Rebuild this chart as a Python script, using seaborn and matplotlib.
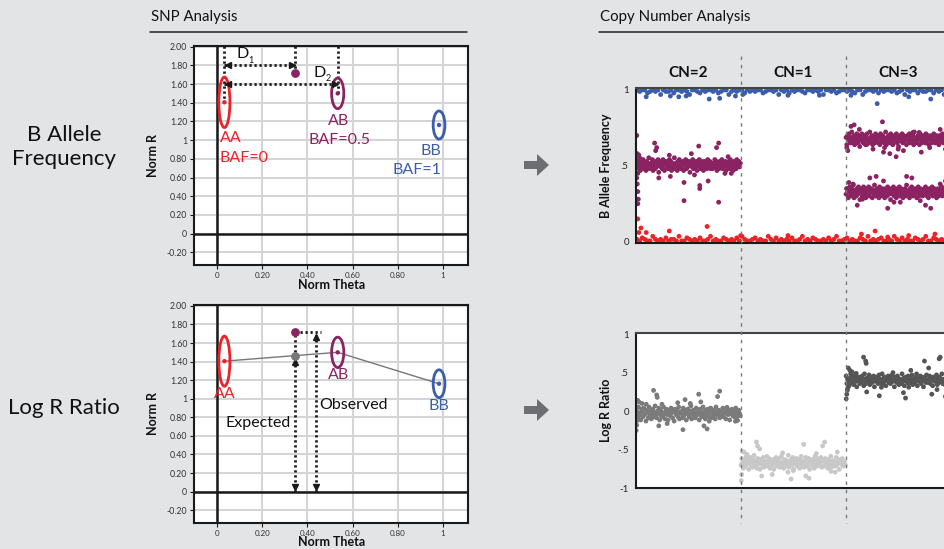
import numpy as np
import pandas as pd
import matplotlib
matplotlib.use("Agg")
import matplotlib.pyplot as plt
import matplotlib.transforms as mtransforms
from matplotlib.patches import Ellipse, Polygon
from matplotlib.lines import Line2D
import seaborn as sns

# ---------------- data: SNP analysis (left) ----------------
theta_ticks = [0, 0.2, 0.4, 0.6, 0.8, 1.0]
theta_labels = ["0", "0.20", "0.40", "0.60", "0.80", "1"]
r_ticks = [-0.2, 0, 0.2, 0.4, 0.6, 0.8, 1.0, 1.2, 1.4, 1.6, 1.8, 2.0]
r_labels = ["-0.20", "0", "0.20", "0.40", "0.60", "0.80", "1", "1.20", "1.40", "1.60", "1.80", "2.00"]

cluster_names = ["AA", "AB", "BB"]
cluster_theta = [0.033, 0.534, 0.982]
cluster_r = [1.405, 1.50, 1.162]
cluster_theta_spread = [0.049, 0.054, 0.052]
cluster_r_spread = [0.54, 0.327, 0.30]
cluster_baf = ["BAF=0", "BAF=0.5", "BAF=1"]

sample_theta = 0.345
sample_r = 1.72
expected_r = 1.465

# ---------------- data: copy number analysis (right) ----------------
seg_labels = ["CN=2", "CN=1", "CN=3"]
seg_starts = [0, 100, 200]
seg_len = 100

# BAF bands: centre values and core deviations (in units of 0.012 BAF)
baf_top = 1.0
top_dev = [0,1,0,0,2,1,0,1,0,3,0,1,1,0,2,0,0,1,0,1,3,0,0,1,2,0,1,0,0,1,0,2,1,0,0,3,1,0,1,0,0,2,0,1,0,1,0,0,2,1,0,0,1,0,3,0,1,0,2,0,1,0,0,1,2,0,0,1,0,1,0,3,0,0,1,0,2,1,0,0,1,0,1,2,0,0,3,1,0,0,1,0,2,0,1,0,0,1,0,2,1,0,3,0,1,0,0,2,0,1,1,0,0,2,0,1,0,3,0,1]
baf_bottom = 0.005
bot_dev = [1,0,2,1,0,0,3,1,0,1,0,2,0,1,1,0,3,0,0,2,1,0,1,0,2,0,0,1,3,0,1,0,0,2,1,0,1,0,2,0,3,1,0,0,1,2,0,1,0,0,3,1,0,2,0,1,0,1,0,2,0,0,1,3,0,1,0,2,1,0,0,1,0,2,0,1,3,0,0,1,2,0,1,0,0,2,1,0,3,0,1,0,1,2,0,0,1,0,3,1,0,2,0,1,0,0,2,1,0,1,3,0,0,2,1,0,1,0,2,0]
baf_mid_cn2 = 0.505
mid2_dev = [2,-1,3,0,-2,1,-3,2,0,-1,3,-2,1,0,-3,2,-1,1,4,-2,0,1,-1,3,-3,0,2,-2,1,-1,0,3,-4,1,2,-1,0,-2,3,1,-3,0,2,-1,1,-2,0,3,-1,2,-3,1,0,-2,4,-1,1,0,-3,2,-1,3,0,-2,1,-1,2,-3,0,1,3,-2,0,-1,2,1,-4,0,2,-1,3,-2,1,0,-1,2,-3,1,0,3,-1,-2,2,0,1,-3,2,-1,0,1,-2,3,0,-1,2,-2,1,0,
            -2,1,0,3,-1,2,-3,0,1,-2,2,-1,0,3,-2,1,-1,0,2,-3,1,0,-1,2,-2,3,0,1,-1,-3,2,0,1,-2,3,-1,0,2,-1,1]
baf_up_cn3 = 0.675
up3_dev = [1,-3,2,0,3,-1,-2,1,4,-2,0,2,-3,1,-1,3,0,-2,2,-4,1,0,3,-1,-2,2,0,-3,1,3,-1,0,-2,4,1,-1,2,-3,0,1,-2,3,-1,0,2,-2,1,-3,3,0,-1,2,1,-2,0,4,-3,1,-1,2,0,-2,3,-1,1,-3,0,2,-1,1,3,-2,0,-4,2,1,-1,0,3,-2,2,-1,0,1,-3,2,0,-1,3,-2,1,0,-1,2,-3,4,0,-2,1,-1,2,0,-3,3,1,-2,
           0,2,-1,1,-2,3,0,-1,2,-3,1,0,2,-2,1,-1,3,0,-2,1,2,-1,0,-3,2,1,-1,0,3,-2,1,0,-1,2,-2,0,1,-3,2,0]
baf_lo_cn3 = 0.325
lo3_dev = [-1,2,0,-3,1,3,-2,0,2,-1,4,-3,1,0,-2,2,-1,3,0,-4,1,2,-2,0,3,-1,1,-3,2,0,-1,3,-2,1,0,2,-3,1,-1,4,0,-2,2,-1,1,-3,3,0,-2,1,2,-1,0,-3,2,1,-2,3,0,-1,1,-4,2,0,-1,3,-2,1,0,-3,2,-1,1,3,-2,0,2,-1,-3,1,0,2,-2,4,-1,0,1,-3,2,-1,3,0,-2,1,-1,2,0,-3,1,3,-2,0,2,-1,
           1,-2,0,2,-1,3,0,-2,1,-3,2,0,-1,1,3,-2,0,2,-1,1,-3,0,2,-2,1,0,-1,3,-2,1,0,2,-1,-2,1,3,0,-1,2,-3]

# BAF outliers (SNP position, value)
blue_out_pos = [10, 33, 41, 48, 70, 80, 95, 102, 145, 175, 205, 230, 260, 281, 298]
blue_out_val = [0.955, 0.96, 0.955, 0.96, 0.94, 0.945, 0.96, 0.97, 0.965, 0.965, 0.965, 0.91, 0.955, 0.94, 0.92]
red_out_pos = [2, 3, 5, 10, 32, 68, 100, 145, 215, 228, 240, 260, 285]
red_out_val = [0.15, 0.06, 0.09, 0.06, 0.07, 0.10, 0.04, 0.04, 0.05, 0.07, 0.03, 0.04, 0.05]
purple_out_pos = [1, 1.5, 2, 1, 1.5, 2, 2.5, 2, 3, 4, 18, 20, 19, 22, 33, 32, 46, 46, 53, 56, 60, 61, 61, 69, 77, 79, 79, 85, 91, 88,
                  201, 202, 205, 208, 213, 220, 226, 235, 236, 237, 242, 248, 250, 255, 264, 270, 272, 280, 290, 295,
                  201, 203, 207, 211, 216, 223, 229, 236, 240, 246, 252, 258, 263, 271, 276, 281, 290, 295]
purple_out_val = [0.70, 0.58, 0.45, 0.42, 0.38, 0.33, 0.28, 0.25, 0.57, 0.55, 0.65, 0.62, 0.60, 0.42, 0.43, 0.57, 0.27, 0.39, 0.58, 0.44, 0.63, 0.35, 0.37, 0.40, 0.62, 0.65, 0.26, 0.45, 0.45, 0.56,
                  0.62, 0.60, 0.76, 0.77, 0.74, 0.64, 0.61, 0.79, 0.59, 0.62, 0.58, 0.56, 0.61, 0.60, 0.72, 0.72, 0.59, 0.62, 0.74, 0.61,
                  0.35, 0.39, 0.38, 0.24, 0.28, 0.42, 0.43, 0.40, 0.22, 0.26, 0.26, 0.43, 0.42, 0.27, 0.24, 0.22, 0.38, 0.40]

# LRR bands: centres and core deviations (in units of 0.014 LRR)
lrr_centre = [-0.03, -0.67, 0.40]
lrr2_dev = [3,-5,1,6,-2,0,-6,4,2,-3,5,-1,0,-7,3,1,-4,6,-2,2,-5,0,4,-3,1,7,-1,-4,2,0,5,-6,3,-2,1,-3,6,0,-5,2,4,-1,-6,3,0,-2,5,1,-4,2,-7,4,0,-1,3,-3,6,-5,1,0,2,-4,5,-2,3,0,-6,1,4,-1,-3,2,7,-5,0,3,-2,1,-4,5,0,-1,2,-6,4,1,-3,0,6,-2,3,-5,1,-1,4,0,-3,2,5,-4,1,-2,3,0,-5,6,-1,2,
            -1,3,-4,2,0,-2,5,-3,1,4,-5,0,2,-1,3,-6,1,0,4,-2,2,-3,0,5,-4,1,-1,3,0,-2]
lrr1_dev = [-2,4,0,-5,3,1,-3,6,-1,2,-6,0,5,-2,1,-4,3,7,-3,0,2,-5,4,-1,1,-6,3,0,-2,5,-4,2,0,-1,6,-3,1,4,-5,0,2,-2,3,-6,1,0,5,-3,2,-1,4,-4,0,6,-2,1,-5,3,0,-1,2,-3,7,-4,1,0,3,-2,5,-6,0,2,-1,4,-3,1,0,-5,3,6,-2,0,1,-4,2,5,-1,-3,0,4,-6,2,1,-2,3,0,-5,6,-1,2,-3,4,0,-2,1,5,-4,3,
            2,-3,0,4,-1,1,-5,3,0,-2,6,-4,1,2,-1,0,-3,5,-2,1,3,-6,0,2,-1,4,-3,0,1,-2]
lrr3_dev = [4,-3,1,0,-5,2,6,-2,0,3,-4,1,5,-1,-6,2,0,3,-3,1,-2,4,0,-5,6,1,-3,2,0,-1,5,-4,3,1,-2,0,4,-6,2,-1,3,0,-3,5,1,-2,0,6,-4,2,-1,3,-5,0,1,4,-2,2,-3,0,5,-1,1,-6,3,0,-2,4,2,-4,1,0,-3,6,-1,2,-5,0,3,1,-2,4,-3,0,2,-1,5,-4,1,0,-2,3,6,-5,0,1,-1,4,-3,2,0,-6,3,1,-2,5,-1,
            -2,1,4,-3,0,2,-5,3,1,-1,0,5,-4,2,-2,3,0,-1,6,-3,1,0,-4,2,3,-2,0,1,-5,4]
lrr2_out_pos = [0.5, 1, 1.5, 2, 3, 6, 10, 17, 20, 20.5, 22, 25, 30, 40, 45, 47, 52, 60, 62, 65, 68, 70, 78, 80, 87, 95, 97]
lrr2_out_val = [-0.25, -0.18, -0.12, 0.14, 0.12, 0.10, 0.09, 0.27, 0.21, 0.18, -0.19, 0.09, -0.16, 0.11, -0.24, 0.15, 0.10, 0.22, 0.12, -0.19, -0.23, -0.13, 0.19, 0.26, 0.05, -0.13, -0.12]
lrr1_out_pos = [100.5, 101, 101.5, 103, 106, 115, 116, 118, 120, 130, 140, 145, 148, 150, 160, 162, 165, 172, 178, 180, 186, 190, 192]
lrr1_out_val = [-0.90, -0.82, -0.52, -0.53, -0.56, -0.40, -0.45, -0.49, -0.84, -0.82, -0.54, -0.79, -0.88, -0.77, -0.43, -0.84, -0.87, -0.55, -0.45, -0.40, -0.78, -0.79, -0.53]
lrr3_out_pos = [200.5, 201, 201.5, 202, 202.5, 204, 206, 210, 217, 219, 219.5, 220, 232, 234, 245, 255, 257, 260, 262, 275, 279, 282, 287, 289, 290, 295, 297]
lrr3_out_val = [0.16, 0.22, 0.27, 0.30, 0.56, 0.53, 0.51, 0.49, 0.70, 0.65, 0.62, 0.25, 0.20, 0.31, 0.50, 0.24, 0.17, 0.31, 0.53, 0.65, 0.56, 0.22, 0.28, 0.68, 0.70, 0.19, 0.36]

# ---------------- style ----------------
sns.set_theme(style="white")
plt.rcParams["font.family"] = ["Lato", "DejaVu Sans"]
BG = "#e3e4e6"
RED = "#ec2227"
PURPLE = "#8b2262"
BLUE = "#3b5dab"
W, H = 945, 549

fig = plt.figure(figsize=(W / 100, H / 100), dpi=100, facecolor=BG)


def fx(x):
    return x / W


def fy(y):
    return 1 - y / H


def rect(l, t, r, b):
    return [fx(l), fy(b), (r - l) / W, (b - t) / H]


# titles + rules
fig.text(fx(151), fy(17), "SNP Analysis", fontsize=10.8, color="#111", va="center", ha="left")
fig.text(fx(600), fy(17), "Copy Number Analysis", fontsize=10.8, color="#111", va="center", ha="left")
fig.add_artist(Line2D([fx(150), fx(467)], [fy(32), fy(32)], color="#222", lw=1.1))
fig.add_artist(Line2D([fx(599), fx(945)], [fy(32), fy(32)], color="#222", lw=1.1))

fig.text(fx(64), fy(147), "B Allele\nFrequency", fontsize=16, color="#111", ha="center", va="center", linespacing=1.2)
fig.text(fx(64), fy(408), "Log R Ratio", fontsize=16, color="#111", ha="center", va="center")

# block arrows
for yc in (165, 410):
    pts = [(524, yc - 4), (537, yc - 4), (537, yc - 11), (549, yc), (537, yc + 11), (537, yc + 4), (524, yc + 4)]
    pts = [(x / 100, (H - y) / 100) for x, y in pts]
    fig.add_artist(Polygon(pts, closed=True, transform=fig.dpi_scale_trans, color="#6d6e71", lw=0))


def snp_axes(r):
    ax = fig.add_axes(r)
    ax.set_facecolor("white")
    ax.set_xlim(-0.1, 1.11)
    ax.set_ylim(-0.335, 2.01)
    ax.set_xticks(theta_ticks)
    ax.set_xticklabels(theta_labels)
    ax.set_yticks(r_ticks)
    ax.set_yticklabels(r_labels)
    ax.grid(True, color="#d4d5d7", lw=1.5)
    ax.set_axisbelow(True)
    ax.axhline(0, color="k", lw=1.8, zorder=1)
    ax.axvline(0, color="k", lw=1.8, zorder=1)
    for s in ax.spines.values():
        s.set_color("k")
        s.set_linewidth(1.5)
    ax.tick_params(axis="both", length=3, width=0.8, color="k", labelcolor="#333", pad=2,
                   direction="out", left=True, bottom=True)
    ax.tick_params(axis="y", labelsize=6.3)
    ax.tick_params(axis="x", labelsize=5.8)
    ax.set_xlabel("Norm Theta", fontsize=9, fontweight="bold", color="#111")
    ax.set_ylabel("Norm R", fontsize=9, fontweight="bold", color="#111")
    ax.xaxis.set_label_coords(0.5, -0.062)
    ax.yaxis.set_label_coords(-0.128, 0.5)
    cols = [RED, PURPLE, BLUE]
    for i in range(3):
        ax.add_patch(Ellipse((cluster_theta[i], cluster_r[i]), cluster_theta_spread[i], cluster_r_spread[i],
                             fill=False, ec=cols[i], lw=2, zorder=4))
    sns.scatterplot(x=cluster_theta, y=cluster_r, hue=cluster_names, palette=cols, s=10, linewidth=0,
                    legend=False, ax=ax, zorder=5)
    return ax, cols


DOT = dict(color="k", lw=2, linestyle=(0, (0.8, 1.0)), dash_capstyle="butt", zorder=3)
HEAD = dict(color="k", ms=4, ls="none", zorder=4)

# ---- top-left: BAF
ax1, cols = snp_axes(rect(194.3, 45.7, 468, 265))
ax1.plot([cluster_theta[0]] * 2, [2.01, cluster_r[0]], **DOT)
ax1.plot([sample_theta] * 2, [2.01, sample_r], **DOT)
ax1.plot([cluster_theta[1]] * 2, [2.01, cluster_r[1]], **DOT)
ax1.plot([cluster_theta[0], sample_theta], [1.80, 1.80], **DOT)
ax1.plot([0.05], [1.80], marker="<", **HEAD)
ax1.plot([0.33], [1.80], marker=">", **HEAD)
ax1.plot([cluster_theta[0], cluster_theta[1]], [1.60, 1.60], **DOT)
ax1.plot([0.05], [1.60], marker="<", **HEAD)
ax1.plot([0.52], [1.60], marker=">", **HEAD)
sns.scatterplot(x=[sample_theta], y=[sample_r], color=PURPLE, s=40, linewidth=0, ax=ax1, zorder=6)
ax1.text(0.085, 1.92, "D", fontsize=11.5, color="#111", ha="left", va="center")
ax1.text(0.14, 1.855, "1", fontsize=6.5, color="#111", ha="left", va="center")
ax1.text(0.425, 1.72, "D", fontsize=11.5, color="#111", ha="left", va="center")
ax1.text(0.48, 1.655, "2", fontsize=6.5, color="#111", ha="left", va="center")
ax1.text(0.013, 1.02, cluster_names[0], color=RED, fontsize=11.5, ha="left", va="center")
ax1.text(0.013, 0.81, cluster_baf[0], color=RED, fontsize=11.5, ha="left", va="center")
ax1.text(0.54, 1.21, cluster_names[1], color=PURPLE, fontsize=11.5, ha="center", va="center")
ax1.text(0.54, 1.00, cluster_baf[1], color=PURPLE, fontsize=11.5, ha="center", va="center")
ax1.text(0.993, 0.88, cluster_names[2], color=BLUE, fontsize=11.5, ha="right", va="center")
ax1.text(0.993, 0.68, cluster_baf[2], color=BLUE, fontsize=11.5, ha="right", va="center")

# ---- bottom-left: LRR
ax2, _ = snp_axes(rect(194.3, 305, 468, 522.7))
line_theta = [cluster_theta[0], sample_theta, cluster_theta[1], cluster_theta[2]]
line_r = [cluster_r[0], expected_r, cluster_r[1], cluster_r[2]]
sns.lineplot(x=line_theta, y=line_r, sort=False, estimator=None, color="#777", lw=1, ax=ax2, zorder=3)
ax2.plot([sample_theta] * 2, [0.0, sample_r], **DOT)
ax2.plot([sample_theta], [0.05], marker="v", **HEAD)
ax2.plot([sample_theta], [1.40], marker="^", **HEAD)
ax2.plot([0.437] * 2, [0.0, sample_r], **DOT)
ax2.plot([0.437], [0.05], marker="v", **HEAD)
ax2.plot([0.437], [1.66], marker="^", **HEAD)
ax2.plot([sample_theta, 0.46], [sample_r, sample_r], **DOT)
sns.scatterplot(x=[sample_theta], y=[expected_r], color="#777", s=40, linewidth=0, ax=ax2, zorder=6)
sns.scatterplot(x=[sample_theta], y=[sample_r], color=PURPLE, s=40, linewidth=0, ax=ax2, zorder=6)
ax2.text(0.037, 1.05, cluster_names[0], color=RED, fontsize=11.5, ha="center", va="center")
ax2.text(0.536, 1.255, cluster_names[1], color=PURPLE, fontsize=11.5, ha="center", va="center")
ax2.text(0.98, 0.92, cluster_names[2], color=BLUE, fontsize=11.5, ha="center", va="center")
ax2.text(0.325, 0.74, "Expected", color="#111", fontsize=11.5, ha="right", va="center")
ax2.text(0.452, 0.93, "Observed", color="#111", fontsize=11.5, ha="left", va="center")


# ---------------- right: copy number ----------------
def cn_axes(r, ylim, yticks, ylabels, ylabel):
    ax = fig.add_axes(r)
    ax.set_facecolor("white")
    ax.set_xlim(0, 300)
    ax.set_ylim(*ylim)
    ax.set_xticks([])
    ax.set_yticks(yticks)
    ax.set_yticklabels(ylabels)
    ax.tick_params(axis="y", length=0, pad=5, labelsize=7, labelcolor="#222", left=False)
    ax.spines["left"].set_color("k")
    ax.spines["bottom"].set_color("k")
    ax.spines["top"].set_color("#444")
    for s in ("left", "bottom", "top"):
        ax.spines[s].set_linewidth(1.5)
    ax.spines["right"].set_visible(False)
    ax.set_ylabel(ylabel, fontsize=9, fontweight="bold", color="#111")
    ax.yaxis.set_label_coords(-0.074, 0.5)
    return ax


def band(start, length, centre, devs, scale, sign=1):
    n = len(devs)
    pos = start + (np.arange(n) + 0.5) * length / n
    val = centre + sign * np.array(devs) * scale
    return pos, val


BAF_UNIT = 0.012
LRR_UNIT = 0.014

ax3 = cn_axes(rect(635.7, 87.7, 950.7, 243.3), (-0.011, 1.015), [0, 0.5, 1], ["0", ".5", "1"], "B Allele Frequency")
rows = []
p, v = band(0, 300, baf_top, top_dev, 0.01, sign=-1)
rows.append(pd.DataFrame({"pos": p, "val": v, "grp": "BB"}))
rows.append(pd.DataFrame({"pos": blue_out_pos, "val": blue_out_val, "grp": "BB"}))
p, v = band(0, 300, baf_bottom, bot_dev, 0.01)
rows.append(pd.DataFrame({"pos": p, "val": v, "grp": "AA"}))
rows.append(pd.DataFrame({"pos": red_out_pos, "val": red_out_val, "grp": "AA"}))
p, v = band(seg_starts[0], seg_len, baf_mid_cn2, mid2_dev, BAF_UNIT)
rows.append(pd.DataFrame({"pos": p, "val": v, "grp": "AB"}))
p, v = band(seg_starts[2], seg_len, baf_up_cn3, up3_dev, BAF_UNIT)
rows.append(pd.DataFrame({"pos": p, "val": v, "grp": "AB"}))
p, v = band(seg_starts[2], seg_len, baf_lo_cn3, lo3_dev, BAF_UNIT)
rows.append(pd.DataFrame({"pos": p, "val": v, "grp": "AB"}))
rows.append(pd.DataFrame({"pos": purple_out_pos, "val": purple_out_val, "grp": "AB"}))
baf_df = pd.concat(rows, ignore_index=True)
sns.scatterplot(data=baf_df, x="pos", y="val", hue="grp", palette={"AA": RED, "AB": PURPLE, "BB": BLUE},
                s=12, linewidth=0, legend=False, ax=ax3)
ax3.set_xlabel("")

ax4 = cn_axes(rect(635.7, 333.3, 950.7, 488.3), (-0.98, 1.01), [-1, -0.5, 0, 0.5, 1], ["-1", "-.5", "0", ".5", "1"], "Log R Ratio")
rows = []
for i, devs in enumerate([lrr2_dev, lrr1_dev, lrr3_dev]):
    p, v = band(seg_starts[i], seg_len, lrr_centre[i], devs, LRR_UNIT)
    rows.append(pd.DataFrame({"pos": p, "val": v, "grp": seg_labels[i]}))
rows.append(pd.DataFrame({"pos": lrr2_out_pos, "val": lrr2_out_val, "grp": seg_labels[0]}))
rows.append(pd.DataFrame({"pos": lrr1_out_pos, "val": lrr1_out_val, "grp": seg_labels[1]}))
rows.append(pd.DataFrame({"pos": lrr3_out_pos, "val": lrr3_out_val, "grp": seg_labels[2]}))
lrr_df = pd.concat(rows, ignore_index=True)
sns.scatterplot(data=lrr_df, x="pos", y="val", hue="grp",
                palette={"CN=2": "#7b7b7b", "CN=1": "#c8c8c8", "CN=3": "#555555"},
                s=12, linewidth=0, legend=False, ax=ax4)
ax4.set_xlabel("")

# segment separators and labels
trans = mtransforms.blended_transform_factory(ax3.transData, fig.transFigure)
for b in seg_starts[1:]:
    fig.add_artist(Line2D([b, b], [fy(56), fy(523)], transform=trans, color="#7a7a7a", lw=1,
                          dashes=(2.5, 3.5), zorder=5))
for i, lab in enumerate(seg_labels):
    fig.text(seg_starts[i] + seg_len / 2, fy(72.7), lab, transform=trans, fontsize=11, fontweight="bold",
             color="#111", ha="center", va="center")

fig.savefig("out.png", dpi=100, facecolor=BG)
